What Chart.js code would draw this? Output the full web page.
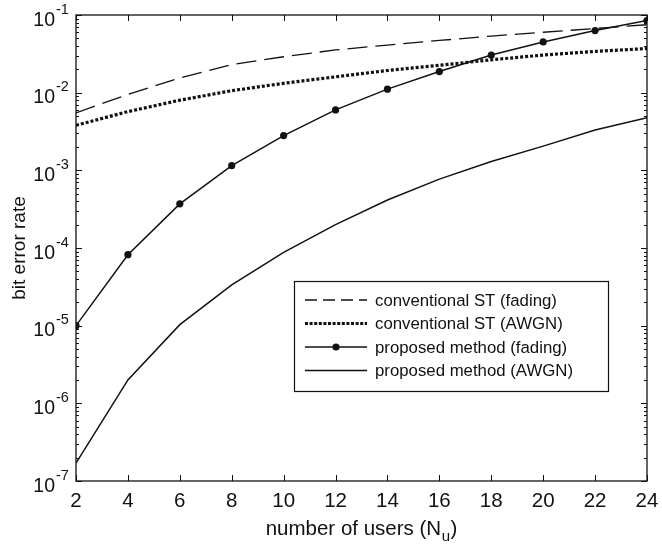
<!DOCTYPE html>
<html>
<head>
<meta charset="utf-8">
<script src="https://cdn.jsdelivr.net/npm/chart.js@4.4.1/dist/chart.umd.min.js"></script>
<style>
  html, body { margin: 0; padding: 0; background: #fff; }
  #wrap { width: 662px; height: 548px; }
</style>
</head>
<body>
<div id="wrap"><canvas id="c" width="662" height="548"></canvas></div>
<script>
// Number of users N_u
const users = [2, 4, 6, 8, 10, 12, 14, 16, 18, 20, 22, 24];

// Bit error rate for each scheme
const convFading = [5.5e-3, 9.5e-3, 1.55e-2, 2.3e-2, 2.9e-2, 3.55e-2, 4.1e-2, 4.7e-2, 5.35e-2, 6.0e-2, 6.7e-2, 7.5e-2];
const convAWGN   = [3.8e-3, 5.7e-3, 8.0e-3, 1.06e-2, 1.32e-2, 1.6e-2, 1.93e-2, 2.25e-2, 2.65e-2, 3.05e-2, 3.4e-2, 3.7e-2];
const propFading = [1.0e-5, 8.2e-5, 3.7e-4, 1.15e-3, 2.8e-3, 6.0e-3, 1.11e-2, 1.87e-2, 3.05e-2, 4.5e-2, 6.3e-2, 8.5e-2];
const propAWGN   = [1.7e-7, 2.0e-6, 1.03e-5, 3.35e-5, 8.8e-5, 2.0e-4, 4.15e-4, 7.7e-4, 1.3e-3, 2.05e-3, 3.3e-3, 4.75e-3];

const seriesNames = [
  'conventional ST (fading)',
  'conventional ST (AWGN)',
  'proposed method (fading)',
  'proposed method (AWGN)'
];

// Decade exponents labelled on the y axis
const yExponents = [-7, -6, -5, -4, -3, -2, -1];

const INK = '#111';
const FONT = '"Liberation Sans", Arial, Helvetica, sans-serif';

const pts = arr => users.map((u, i) => ({ x: u, y: arr[i] }));

const styles = [
  { borderDash: [20, 8], borderWidth: 1.3, pointRadius: 0 },
  { borderDash: [3, 2], borderWidth: 3.2, pointRadius: 0 },
  { borderDash: [], borderWidth: 1.5, pointRadius: 3.6 },
  { borderDash: [], borderWidth: 1.5, pointRadius: 0 }
];

// Box, inward ticks, decade labels, axis titles and legend
const axesDecor = {
  id: 'axesDecor',
  afterDraw(chart) {
    const { ctx, chartArea: a, scales } = chart;
    const xs = scales.x, ys = scales.y;
    ctx.save();
    ctx.strokeStyle = INK;
    ctx.fillStyle = INK;
    ctx.setLineDash([]);

    // frame
    ctx.lineWidth = 1.3;
    ctx.strokeRect(a.left, a.top, a.right - a.left, a.bottom - a.top);

    // x ticks (bottom and top, pointing inward)
    ctx.lineWidth = 1;
    ctx.beginPath();
    for (let u = 2; u <= 24; u += 2) {
      const px = Math.round(xs.getPixelForValue(u)) + 0.5;
      ctx.moveTo(px, a.bottom); ctx.lineTo(px, a.bottom - 6);
      ctx.moveTo(px, a.top); ctx.lineTo(px, a.top + 6);
    }
    // y major and minor ticks (left and right)
    for (const e of yExponents) {
      for (let m = 1; m <= 9; m++) {
        const v = m * Math.pow(10, e);
        if (v > 0.1 * 1.0001) continue;
        const py = Math.round(ys.getPixelForValue(v)) + 0.5;
        const len = m === 1 ? 6 : 3;
        ctx.moveTo(a.left, py); ctx.lineTo(a.left + len, py);
        ctx.moveTo(a.right, py); ctx.lineTo(a.right - len, py);
      }
    }
    ctx.stroke();

    // decade labels 10^e
    for (const e of yExponents) {
      const py = ys.getPixelForValue(Math.pow(10, e));
      ctx.font = '19.5px ' + FONT;
      ctx.textAlign = 'right';
      ctx.textBaseline = 'alphabetic';
      ctx.fillText('10', 55, py + 10.5);
      ctx.font = '14.5px ' + FONT;
      ctx.textAlign = 'left';
      ctx.fillText(String(e), 56, py - 1.5);
    }

    // y title
    ctx.save();
    ctx.translate(25, (a.top + a.bottom) / 2);
    ctx.rotate(-Math.PI / 2);
    ctx.font = '19px ' + FONT;
    ctx.textAlign = 'center';
    ctx.textBaseline = 'alphabetic';
    ctx.fillText('bit error rate', 0, 0);
    ctx.restore();

    // x title with subscript
    const main = 'number of users (N';
    const sub = 'u';
    const tail = ')';
    ctx.font = '20.5px ' + FONT;
    const wMain = ctx.measureText(main).width;
    const wTail = ctx.measureText(tail).width;
    ctx.font = '15px ' + FONT;
    const wSub = ctx.measureText(sub).width;
    const total = wMain + wSub + 1 + wTail;
    let x0 = (a.left + a.right) / 2 - total / 2;
    const base = 535;
    ctx.textAlign = 'left';
    ctx.font = '20.5px ' + FONT;
    ctx.fillText(main, x0, base);
    ctx.font = '15px ' + FONT;
    ctx.fillText(sub, x0 + wMain + 0.5, base + 6);
    ctx.font = '20.5px ' + FONT;
    ctx.fillText(tail, x0 + wMain + wSub + 1, base);

    // legend
    const lx = 294.5, ly = 281.5, lw = 314, lh = 110;
    ctx.fillStyle = '#fff';
    ctx.fillRect(lx, ly, lw, lh);
    ctx.fillStyle = INK;
    ctx.lineWidth = 1.2;
    ctx.strokeRect(lx, ly, lw, lh);
    const rowY = [300, 323.5, 347, 370.5];
    const s0 = 305, s1 = 367;
    const legendDash = [[12, 6], [3, 1.6], [], []];
    ctx.font = '16.8px ' + FONT;
    ctx.textBaseline = 'middle';
    seriesNames.forEach((name, i) => {
      const y = rowY[i];
      ctx.beginPath();
      ctx.setLineDash(legendDash[i]);
      ctx.lineWidth = styles[i].borderWidth;
      ctx.moveTo(s0, y); ctx.lineTo(s1, y);
      ctx.stroke();
      ctx.setLineDash([]);
      if (styles[i].pointRadius > 0) {
        ctx.beginPath();
        ctx.arc((s0 + s1) / 2, y, styles[i].pointRadius, 0, Math.PI * 2);
        ctx.fill();
      }
      ctx.fillText(name, 375, y + 1);
    });
    ctx.restore();
  }
};

new Chart(document.getElementById('c'), {
  type: 'line',
  data: {
    datasets: [convFading, convAWGN, propFading, propAWGN].map((arr, i) => ({
      label: seriesNames[i],
      data: pts(arr),
      borderColor: INK,
      backgroundColor: INK,
      pointBackgroundColor: INK,
      pointBorderColor: INK,
      pointBorderWidth: 0,
      borderCapStyle: 'butt',
      tension: 0,
      fill: false,
      ...styles[i]
    }))
  },
  options: {
    responsive: false,
    animation: false,
    devicePixelRatio: 1,
    layout: { padding: { top: 15, right: 15, left: 0, bottom: 0 } },
    plugins: { legend: { display: false }, tooltip: { enabled: false } },
    scales: {
      x: {
        type: 'linear',
        min: 2,
        max: 24,
        grid: { display: false },
        border: { display: false },
        ticks: {
          stepSize: 2,
          color: INK,
          font: { family: FONT, size: 20.5 },
          padding: 0,
          maxRotation: 0,
          autoSkip: false
        },
        afterFit: s => { s.height = 67; }
      },
      y: {
        type: 'logarithmic',
        min: 1e-7,
        max: 1e-1,
        grid: { display: false },
        border: { display: false },
        ticks: { display: false },
        afterFit: s => { s.width = 76; }
      }
    }
  },
  plugins: [axesDecor]
});
</script>
</body>
</html>
